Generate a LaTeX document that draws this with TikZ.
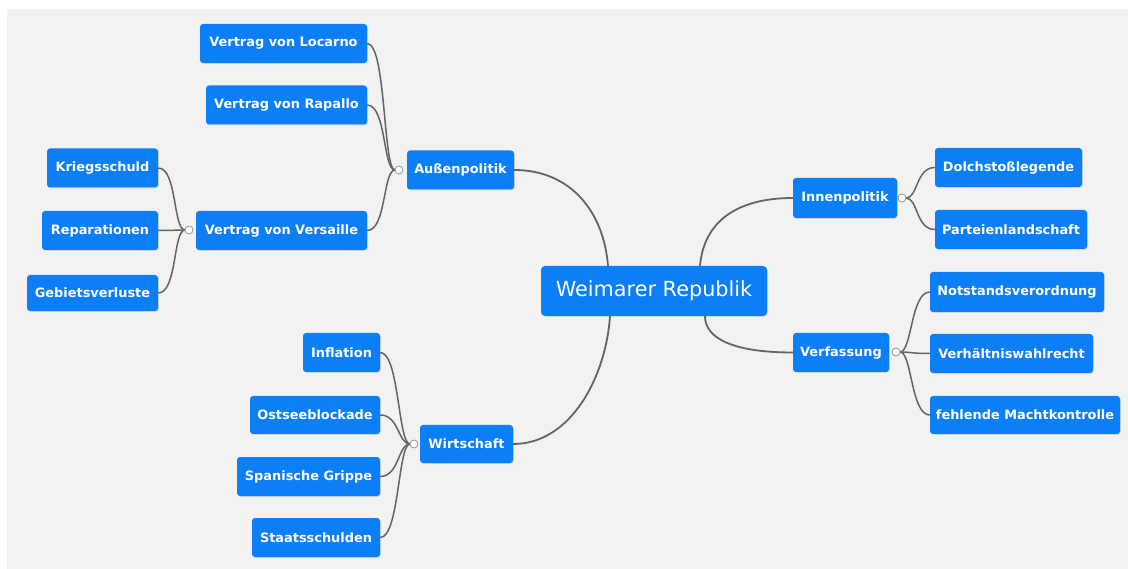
\documentclass[tikz,border=0pt]{standalone}
\usepackage{fontspec}
\setmainfont{DejaVu Sans}
\usetikzlibrary{calc,shadows}
\definecolor{boxblue}{RGB}{12,126,246}
\definecolor{bggray}{RGB}{242,242,242}
\definecolor{linegray}{RGB}{100,100,100}
\tikzset{
  topic/.style={fill=boxblue, text=white, rounded corners=3pt, inner sep=0pt,
    minimum height=39pt, font=\bfseries\fontsize{12.9}{15}\selectfont,
    drop shadow={opacity=0.25, shadow xshift=0.8pt, shadow yshift=-0.8pt}},
  central/.style={fill=boxblue, text=white, rounded corners=4pt, inner sep=0pt,
    minimum height=50pt, font=\fontsize{20.8}{24}\selectfont,
    drop shadow={opacity=0.25, shadow xshift=0.8pt, shadow yshift=-0.8pt}},
  junc/.style={circle, draw=linegray!70, fill=white, line width=0.8pt, inner sep=0pt, minimum size=8pt},
  conn/.style={draw=linegray, line width=1.5pt},
  mainconn/.style={draw=linegray, line width=1.8pt}
}
\begin{document}
\begin{tikzpicture}[x=1pt,y=-1pt]
\useasboundingbox (0,0) rectangle (1128,569);
\fill[white] (0,0) rectangle (1128,569);
\fill[bggray] (7,9) rectangle (1128,569);

\node[central, minimum width=226pt] (weimar) at (654,291) {Weimarer Republik};

\node[topic, minimum width=167pt] (locarno) at (283.5,43.5) {Vertrag von Locarno};
\node[topic, minimum width=161pt] (rapallo) at (286.5,105) {Vertrag von Rapallo};
\node[topic, minimum width=171pt] (versa) at (281.5,230.5) {Vertrag von Versaille};
\node[topic, minimum width=107pt] (aussen) at (460.5,170) {Außenpolitik};

\node[topic, minimum width=111pt] (kriegs) at (102.5,168) {Kriegsschuld};
\node[topic, minimum width=116pt] (repar) at (100,230.5) {Reparationen};
\node[topic, minimum width=131pt, minimum height=36pt] (gebiet) at (92.5,293) {Gebietsverluste};

\node[topic, minimum width=104pt, minimum height=40pt] (innen) at (845,198) {Innenpolitik};
\node[topic, minimum width=147pt] (dolch) at (1008.5,167.5) {Dolchstoßlegende};
\node[topic, minimum width=152pt] (partei) at (1011,229.5) {Parteienlandschaft};

\node[topic, minimum width=96pt] (verf) at (841,352.5) {Verfassung};
\node[topic, minimum width=174pt, minimum height=40pt] (notst) at (1017,292) {Notstandsverordnung};
\node[topic, minimum width=163pt] (verh) at (1011.5,353.5) {Verhältniswahlrecht};
\node[topic, minimum width=190pt, minimum height=38pt] (fehl) at (1025,415) {fehlende Machtkontrolle};

\node[topic, minimum width=93pt, minimum height=38pt] (wirt) at (466.5,444) {Wirtschaft};
\node[topic, minimum width=77pt] (infl) at (341.5,352.5) {Inflation};
\node[topic, minimum width=130pt, minimum height=38pt] (ostsee) at (315,415) {Ostseeblockade};
\node[topic, minimum width=143pt] (span) at (308.5,476.5) {Spanische Grippe};
\node[topic, minimum width=128pt] (staat) at (316,537.5) {Staatsschulden};

% junction circles (positions)
\coordinate (jA) at (399,170);
\coordinate (jV) at (189,230);
\coordinate (jI) at (902,198);
\coordinate (jF) at (896,352);
\coordinate (jW) at (414,444);

% anchor points on the central node
\coordinate (wTL) at ($(weimar.north)+(-46,0)$);
\coordinate (wTR) at ($(weimar.north)+(46,0)$);
\coordinate (wBL) at ($(weimar.south)+(-44,0)$);
\coordinate (wBR) at ($(weimar.south)+(51,0)$);

% main connectors
\draw[mainconn] (aussen.east) .. controls +(58,0) and +(-4,-52) .. (wTL);
\draw[mainconn] (innen.west) .. controls +(-55,0) and +(4,-45) .. (wTR);
\draw[mainconn] (verf.west) .. controls +(-60,0) and +(0,22) .. (wBR);
\draw[mainconn] (wirt.east) .. controls +(58,0) and +(-4,60) .. (wBL);

% Aussenpolitik branches
\foreach \c in {locarno,rapallo,versa}
  \draw[conn] (\c.east) .. controls +(19,0) and +(-12,0) .. ($(jA)+(-4,0)$);
% Versaille branches
\foreach \c in {kriegs,repar,gebiet}
  \draw[conn] (\c.east) .. controls +(19,0) and +(-12,0) .. ($(jV)+(-4,0)$);
% Innenpolitik branches
\foreach \c in {dolch,partei}
  \draw[conn] (\c.west) .. controls +(-19,0) and +(12,0) .. ($(jI)+(4,0)$);
% Verfassung branches
\foreach \c in {notst,verh,fehl}
  \draw[conn] (\c.west) .. controls +(-19,0) and +(12,0) .. ($(jF)+(4,0)$);
% Wirtschaft branches
\foreach \c in {infl,ostsee,span,staat}
  \draw[conn] (\c.east) .. controls +(19,0) and +(-12,0) .. ($(jW)+(-4,0)$);

% junction circles drawn on top
\node[junc] (cA) at (jA) {};
\node[junc] (cV) at (jV) {};
\node[junc] (cI) at (jI) {};
\node[junc] (cF) at (jF) {};
\node[junc] (cW) at (jW) {};
\end{tikzpicture}
\end{document}
